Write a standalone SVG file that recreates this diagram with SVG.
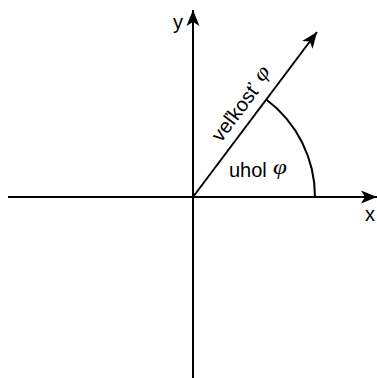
<svg xmlns="http://www.w3.org/2000/svg" width="377" height="378" viewBox="0 0 377 378">
<style>
.ax{stroke:#000;stroke-width:2;fill:none}
.t{font-family:"Liberation Sans",Arial,sans-serif;font-size:20px;fill:#000}
.phi{font-family:"Liberation Serif","DejaVu Serif",serif;font-style:italic;font-size:21px;fill:#000}
</style>
<defs>
<marker id="ah" markerUnits="userSpaceOnUse" markerWidth="20" markerHeight="16" viewBox="-17 -8 18 16" refX="0" refY="0" orient="auto">
<path d="M0,0 L-16,-6.5 L-12,0 L-16,6.5 Z" fill="#000"/>
</marker>
</defs>
<rect width="377" height="378" fill="#fff"/>
<g id="connectors">
<line class="ax" x1="8" y1="197" x2="377" y2="197" marker-end="url(#ah)"/>
<line class="ax" x1="193" y1="378" x2="193" y2="10" marker-end="url(#ah)"/>
<line class="ax" x1="193" y1="197" x2="317" y2="32" marker-end="url(#ah)"/>
<path class="ax" d="M315,197 A122,122 0 0 0 266.3,99.5"/>
</g>
<g id="label-y"><text class="t" x="173" y="29">y</text></g>
<g id="label-x"><text class="t" x="365" y="221">x</text></g>
<g id="label-uhol">
<text class="t" x="229" y="177">uhol</text>
<text class="phi" transform="translate(273,174) scale(1.2,1)">φ</text>
</g>
<g id="label-velkost" transform="translate(221,143) rotate(-53.1)">
<text class="t" x="0" y="0">veľkosť</text>
<text class="phi" transform="translate(73,-3) scale(1.2,1)">φ</text>
</g>
</svg>
